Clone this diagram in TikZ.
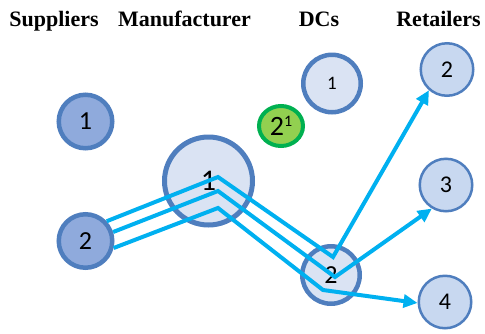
\documentclass[tikz,border=0pt]{standalone}
\usepackage{fontspec}
\setmainfont{Liberation Serif}
\newfontfamily\numfont{Carlito}
\usetikzlibrary{arrows.meta,shapes.geometric}

\definecolor{edgeblue}{RGB}{79,126,190}
\definecolor{supfill}{RGB}{143,170,220}
\definecolor{palefill}{RGB}{218,227,243}
\definecolor{retfill}{RGB}{200,216,240}
\definecolor{flow}{RGB}{0,176,240}
\definecolor{leaf}{RGB}{146,208,80}
\definecolor{leafedge}{RGB}{0,176,80}

\tikzset{
  header/.style={font=\fontsize{22}{24}\selectfont\bfseries, anchor=base, inner sep=0pt},
  supplier/.style={circle, draw=edgeblue, fill=supfill, line width=4.5pt,
    minimum size=53.5pt, inner sep=0pt, font=\numfont\fontsize{26}{26}\selectfont},
  plant/.style={circle, draw=edgeblue, fill=palefill, line width=5pt,
    minimum size=88pt, inner sep=0pt, font=\numfont\fontsize{30}{30}\selectfont},
  depot/.style={circle, draw=edgeblue, fill=palefill, line width=4.5pt,
    minimum size=57.5pt, inner sep=0pt},
  retailer/.style={circle, draw=edgeblue, fill=retfill, line width=2.5pt,
    minimum size=52.5pt, inner sep=0pt, font=\numfont\fontsize{24}{24}\selectfont},
  flowline/.style={draw=flow, line width=4pt},
  flowarrow/.style={flowline, -{Triangle[length=14pt,width=13pt]}}
}

\begin{document}
\begin{tikzpicture}[x=1pt, y=-1pt]
  \useasboundingbox (0,0) rectangle (485,333);

  % column headings
  \node[header] (hsup) at (54,26) {Suppliers};
  \node[header] (hman) at (184.5,26) {Manufacturer};
  \node[header] (hdc)  at (319,26) {DCs};
  \node[header] (hret) at (438.5,26) {Retailers};

  % suppliers
  \node[supplier] (s1) at (85.5,121.5) {1};
  \node[supplier] (s2) at (85.5,241) {2};

  % manufacturer
  \node[plant] (m1) at (208.5,181) {\raisebox{-2pt}{1}};

  % distribution centres
  \node[depot, font=\numfont\fontsize{19}{19}\selectfont] (d1) at (332,83.5) {\raisebox{-3pt}{1}\hspace{6pt}};
  \node[depot, font=\numfont\fontsize{26}{26}\selectfont] (d2) at (331,275) {\raisebox{-3pt}{2}};
  \node[ellipse, draw=leafedge, fill=leaf, line width=4pt, minimum width=44pt,
        minimum height=40pt, inner sep=0pt, font=\numfont\fontsize{28}{28}\selectfont]
        (g2) at (281,126) {2\raisebox{9pt}{\fontsize{16}{16}\selectfont 1}};

  % retailers
  \node[retailer] (r2) at (447,69.5) {2};
  \node[retailer] (r3) at (446,185) {3};
  \node[retailer] (r4) at (445,302) {4};

  % bend points of the three flows
  \coordinate (a1) at (218,177);
  \coordinate (a2) at (333,257);
  \coordinate (b1) at (218,191);
  \coordinate (b2) at (335,277);
  \coordinate (c1) at (218,208);
  \coordinate (c2) at (323,290);

  % product flows
  \draw[flowarrow] (s2.43)  -- (a1) -- (a2) -- (r2.229);
  \draw[flowarrow] (s2.18)  -- (b1) -- (b2) -- (r3.239);
  \draw[flowarrow] (s2.-14) -- (c1) -- (c2) -- (r4.182);
\end{tikzpicture}
\end{document}
